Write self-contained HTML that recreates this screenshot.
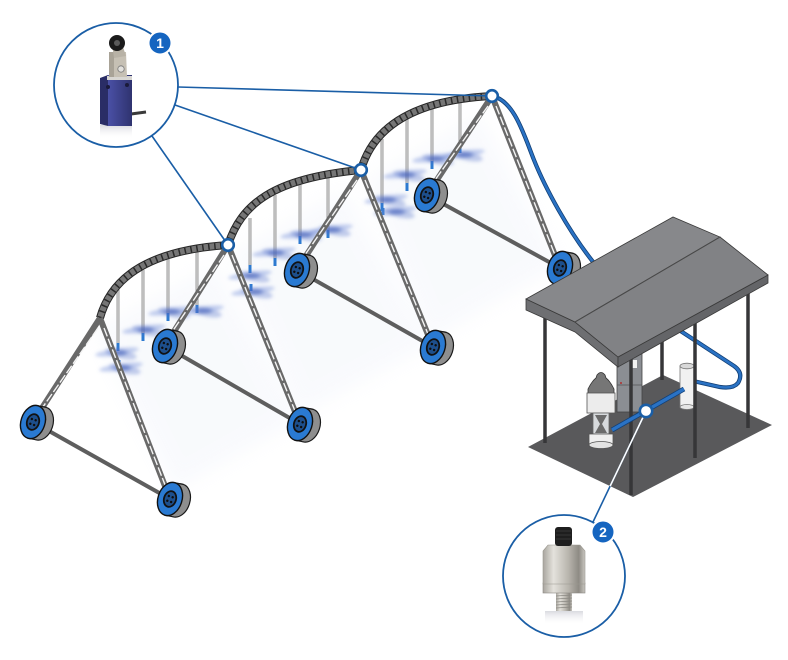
<!DOCTYPE html>
<html><head><meta charset="utf-8">
<style>html,body{margin:0;padding:0;background:#fff;}svg{display:block}</style>
</head><body>
<svg width="788" height="660" viewBox="0 0 788 660" xmlns="http://www.w3.org/2000/svg">
<defs>
<filter id="b2" x="-50%" y="-50%" width="200%" height="200%"><feGaussianBlur stdDeviation="1.8"/></filter>
<filter id="b8" x="-50%" y="-50%" width="200%" height="200%"><feGaussianBlur stdDeviation="9"/></filter>
<linearGradient id="bodyG" x1="0" x2="1" y1="0" y2="0"><stop offset="0" stop-color="#4a50a6"/><stop offset="1" stop-color="#2f336f"/></linearGradient>
<linearGradient id="metal" x1="0" x2="1" y1="0" y2="0"><stop offset="0" stop-color="#a9a69f"/><stop offset=".25" stop-color="#e4e2dc"/><stop offset=".6" stop-color="#b9b6ae"/><stop offset=".85" stop-color="#8e8b84"/><stop offset="1" stop-color="#c9c7c1"/></linearGradient>
<linearGradient id="refl" x1="0" x2="0" y1="0" y2="1"><stop offset="0" stop-color="#c9cad3" stop-opacity=".7"/><stop offset="1" stop-color="#fff" stop-opacity="0"/></linearGradient>
<clipPath id="slabClip"><polygon points="528,447 633,497 772,425 663,375"/></clipPath>
<g id="wheel">
 <ellipse cx="8" cy="-1" rx="12" ry="17" fill="#8e8e8e" stroke="#1a1a1a" stroke-width="1.2"/>
 <polygon points="0,-17 8,-18 8,16 0,17" fill="#8e8e8e"/>
 <line x1="0" y1="-17" x2="8" y2="-18" stroke="#1a1a1a" stroke-width="1.2"/>
 <line x1="0" y1="17" x2="8" y2="16" stroke="#1a1a1a" stroke-width="1.2"/>
 <ellipse cx="0" cy="0" rx="12" ry="17" fill="#2a7ad2" stroke="#111" stroke-width="1.4"/>
 <ellipse cx="0" cy="0" rx="6" ry="8" fill="#1d4f8c" stroke="#111" stroke-width="1.8"/>
 <circle cx="-2" cy="-2.5" r="1.2" fill="#0d0d0d"/>
 <circle cx="2" cy="-2.5" r="1.2" fill="#0d0d0d"/>
 <circle cx="-2" cy="2.5" r="1.2" fill="#0d0d0d"/>
 <circle cx="2" cy="2.5" r="1.2" fill="#0d0d0d"/>
</g>
<g id="spray">
 <ellipse rx="22" ry="3.5" fill="#6b88d8" opacity=".4" transform="rotate(-8)"/>
 <ellipse rx="16" ry="4.5" fill="#5573c8" opacity=".35" transform="translate(4,2) rotate(12)"/>
 <ellipse rx="8" ry="2.5" fill="#3452b0" opacity=".5" transform="translate(2,1)"/>
</g>
</defs>

<rect width="788" height="660" fill="#fff"/>

<!-- haze under spans -->
<g filter="url(#b8)" opacity=".18">
 <polygon points="95,330 215,265 300,420 175,490" fill="#dde4f4"/>
 <polygon points="230,255 345,190 430,345 300,415" fill="#dde4f4"/>
 <polygon points="365,180 480,115 560,265 430,340" fill="#dde4f4"/>
</g>

<!-- droppers -->
<g stroke-linecap="butt">
 <g stroke="#9a9a9a" stroke-width="3">
  <line x1="118" y1="288" x2="118" y2="350"/><line x1="143" y1="270" x2="143" y2="340"/>
  <line x1="168" y1="258" x2="168" y2="320"/><line x1="197" y1="251" x2="197" y2="312"/>
  <line x1="250" y1="218" x2="250" y2="272"/><line x1="275" y1="195" x2="275" y2="265"/>
  <line x1="300" y1="180" x2="300" y2="243"/><line x1="328" y1="173" x2="328" y2="237"/>
  <line x1="382" y1="139" x2="382" y2="210"/><line x1="407" y1="119" x2="407" y2="190"/>
  <line x1="432" y1="104" x2="432" y2="168"/><line x1="460" y1="99" x2="460" y2="152"/>
 </g>
 <g stroke="#e2e2e2" stroke-width="1">
  <line x1="118" y1="288" x2="118" y2="343"/><line x1="143" y1="270" x2="143" y2="333"/>
  <line x1="168" y1="258" x2="168" y2="313"/><line x1="197" y1="251" x2="197" y2="305"/>
  <line x1="250" y1="218" x2="250" y2="265"/><line x1="275" y1="195" x2="275" y2="258"/>
  <line x1="300" y1="180" x2="300" y2="236"/><line x1="328" y1="173" x2="328" y2="230"/>
  <line x1="382" y1="139" x2="382" y2="203"/><line x1="407" y1="119" x2="407" y2="183"/>
  <line x1="432" y1="104" x2="432" y2="161"/><line x1="460" y1="99" x2="460" y2="145"/>
 </g>
 <g stroke="#2d7ad0" stroke-width="3">
  <line x1="118" y1="343" x2="118" y2="351"/><line x1="143" y1="333" x2="143" y2="341"/>
  <line x1="168" y1="313" x2="168" y2="321"/><line x1="197" y1="305" x2="197" y2="313"/>
  <line x1="250" y1="265" x2="250" y2="273"/><line x1="275" y1="258" x2="275" y2="266"/>
  <line x1="300" y1="236" x2="300" y2="244"/><line x1="328" y1="230" x2="328" y2="238"/>
  <line x1="382" y1="203" x2="382" y2="211"/><line x1="407" y1="183" x2="407" y2="191"/>
  <line x1="432" y1="161" x2="432" y2="169"/><line x1="460" y1="145" x2="460" y2="153"/>
  <line x1="119" y1="360" x2="119" y2="367"/><line x1="251" y1="284" x2="251" y2="291"/>
  <line x1="383" y1="208" x2="383" y2="215"/>
 </g>
</g>

<!-- sprays -->
<g filter="url(#b2)">
 <use href="#spray" x="117" y="352"/><use href="#spray" x="121" y="367"/>
 <use href="#spray" x="144" y="329"/><use href="#spray" x="170" y="311"/><use href="#spray" x="202" y="310"/>
 <use href="#spray" x="250" y="275"/><use href="#spray" x="253" y="291"/>
 <use href="#spray" x="274" y="252"/><use href="#spray" x="302" y="234"/><use href="#spray" x="331" y="229"/>
 <use href="#spray" x="386" y="199"/><use href="#spray" x="395" y="211"/>
 <use href="#spray" x="405" y="174"/><use href="#spray" x="434" y="158"/><use href="#spray" x="463" y="154"/>
</g>

<!-- arches -->
<g fill="none">
 <g stroke="#262626" stroke-width="8">
  <path d="M100,318 C112,275 152,250 228,245"/>
  <path d="M228,245 C241,205 272,178 361,170"/>
  <path d="M361,170 C373,128 412,100 492,96"/>
 </g>
 <g stroke="#767676" stroke-width="6">
  <path d="M100,318 C112,275 152,250 228,245"/>
  <path d="M228,245 C241,205 272,178 361,170"/>
  <path d="M361,170 C373,128 412,100 492,96"/>
 </g>
 <g stroke="#2a2a2a" stroke-width="6" stroke-dasharray="1.5 4.5">
  <path d="M100,318 C112,275 152,250 228,245"/>
  <path d="M228,245 C241,205 272,178 361,170"/>
  <path d="M361,170 C373,128 412,100 492,96"/>
 </g>
</g>

<!-- bottom links -->
<g stroke="#5e5e5e" stroke-width="4">
 <line x1="33" y1="422" x2="170" y2="499"/>
 <line x1="165" y1="346" x2="300" y2="424"/>
 <line x1="297" y1="270" x2="433" y2="347"/>
 <line x1="427" y1="195" x2="560" y2="268"/>
</g>

<!-- legs -->
<g stroke="#696969" stroke-width="6">
 <line x1="100" y1="318" x2="33" y2="422"/><line x1="100" y1="318" x2="170" y2="499"/>
 <line x1="228" y1="245" x2="165" y2="346"/><line x1="228" y1="245" x2="300" y2="424"/>
 <line x1="361" y1="170" x2="297" y2="270"/><line x1="361" y1="170" x2="433" y2="347"/>
 <line x1="492" y1="96" x2="427" y2="195"/><line x1="492" y1="96" x2="560" y2="268"/>
</g>
<g stroke="#f4f4f4" stroke-width="1.4" stroke-dasharray="9 2.5">
 <line x1="98" y1="328" x2="38" y2="414"/><line x1="104" y1="328" x2="167" y2="490"/>
 <line x1="224" y1="255" x2="168" y2="338"/><line x1="232" y1="255" x2="297" y2="416"/>
 <line x1="357" y1="180" x2="300" y2="262"/><line x1="365" y1="180" x2="430" y2="339"/>
 <line x1="488" y1="106" x2="430" y2="187"/><line x1="496" y1="106" x2="557" y2="260"/>
</g>

<!-- wheels -->
<use href="#wheel" transform="translate(33,422) rotate(18)"/>
<use href="#wheel" transform="translate(170,499) rotate(18)"/>
<use href="#wheel" transform="translate(165,346) rotate(18)"/>
<use href="#wheel" transform="translate(300,424) rotate(18)"/>
<use href="#wheel" transform="translate(297,270) rotate(18)"/>
<use href="#wheel" transform="translate(433,347) rotate(18)"/>
<use href="#wheel" transform="translate(427,195) rotate(18)"/>
<use href="#wheel" transform="translate(560,268) rotate(18)"/>

<!-- hose from pivot end -->
<path d="M492,96 C514,100 524,135 534,160 S568,232 598,268" fill="none" stroke="#123f74" stroke-width="4.2"/>
<path d="M492,96 C514,100 524,135 534,160 S568,232 598,268" fill="none" stroke="#2a72c4" stroke-width="2.6"/>

<!-- pump house slab -->
<polygon points="528,447 633,497 772,425 663,375" fill="#59595b"/>

<!-- back posts -->
<g stroke="#363638" stroke-width="3.5">
 <line x1="662" y1="335" x2="662" y2="380"/>
</g>

<!-- hose under roof -->
<path d="M676,328 L734,366 Q744,373 738,383 Q733,389 720,387 L693,381" fill="none" stroke="#123f74" stroke-width="4.2"/>
<path d="M676,328 L734,366 Q744,373 738,383 Q733,389 720,387 L693,381" fill="none" stroke="#2a72c4" stroke-width="2.6"/>

<!-- cabinet -->
<rect x="617" y="352" width="25" height="60" fill="#8b8e93" stroke="#444" stroke-width=".8"/>
<line x1="617" y1="385" x2="642" y2="385" stroke="#555" stroke-width=".8"/>
<rect x="632" y="360" width="5" height="8" fill="#f2f2f2"/>
<circle cx="621" cy="383" r="1" fill="#b03030"/>

<!-- white cylinder -->
<rect x="680" y="366" width="14" height="41" fill="#f1f1f1" stroke="#777" stroke-width=".8"/>
<ellipse cx="687" cy="407" rx="7" ry="2.5" fill="#e6e6e6" stroke="#777" stroke-width=".8"/>
<ellipse cx="687" cy="366" rx="7" ry="2.8" fill="#d8d8d8" stroke="#777" stroke-width=".8"/>

<!-- filter -->
<path d="M588,394 L588,389 Q592,381 596,378 L597,375 Q601,370 605,375 L606,378 Q610,381 614,389 L614,394 Z" fill="#767676" stroke="#333" stroke-width=".8"/>
<rect x="587" y="393" width="28" height="20" fill="#ececec" stroke="#555" stroke-width=".8"/>
<rect x="593" y="413" width="16" height="21" fill="#d7dadd" stroke="#666" stroke-width=".8"/>
<polygon points="595,415 607,415 602,424 607,433 595,433 600,424" fill="#6b6b6b"/>
<rect x="589" y="434" width="24" height="11" fill="#efefef" stroke="#555" stroke-width=".8"/>
<ellipse cx="601" cy="445" rx="12" ry="3.5" fill="#e3e3e3" stroke="#555" stroke-width=".8"/>

<!-- front posts -->
<g stroke="#363638" stroke-width="3.5">
 <line x1="545" y1="300" x2="545" y2="443"/>
 <line x1="631" y1="350" x2="631" y2="495"/>
 <line x1="695" y1="318" x2="695" y2="458"/>
 <line x1="748" y1="276" x2="748" y2="428"/>
</g>

<!-- inner pipe -->
<line x1="612" y1="430" x2="684" y2="389" stroke="#123f74" stroke-width="5"/>
<line x1="612" y1="430" x2="684" y2="389" stroke="#2a72c4" stroke-width="3.4"/>

<!-- roof -->
<polygon points="526,299 575,322 618,357 618,367 575,332 526,310" fill="#6e6f72" stroke="#3a3a3a" stroke-width=".8"/>
<polygon points="618,357 768,275 768,283 618,367" fill="#646568" stroke="#3a3a3a" stroke-width=".8"/>
<polygon points="526,299 673,217 720,237 575,322" fill="#87888b" stroke="#3a3a3a" stroke-width=".8"/>
<polygon points="575,322 720,237 768,275 618,357" fill="#818285" stroke="#3a3a3a" stroke-width=".8"/>
<line x1="575" y1="322" x2="720" y2="237" stroke="#4a4a4a" stroke-width="1"/>

<!-- callout lines -->
<g stroke="#1a5ea6" stroke-width="1.6" fill="none">
 <line x1="178" y1="87" x2="492" y2="96"/>
 <line x1="175" y1="105" x2="361" y2="170"/>
 <line x1="152" y1="136" x2="228" y2="245"/>
 <line x1="646" y1="411" x2="593" y2="522"/>
</g>
<line x1="646" y1="411" x2="593" y2="522" stroke="#fff" stroke-width="1.6" clip-path="url(#slabClip)"/>

<!-- nodes -->
<g fill="#fff" stroke="#1a5ea6" stroke-width="2.6">
 <circle cx="228" cy="245" r="5.8"/>
 <circle cx="361" cy="170" r="5.8"/>
 <circle cx="492" cy="96" r="5.8"/>
 <circle cx="646" cy="411" r="6.2"/>
</g>

<!-- callout circle 1 : limit switch -->
<circle cx="116" cy="85" r="62" fill="#fff" stroke="#1a5ea6" stroke-width="1.8"/>
<rect x="100" y="125" width="32" height="14" fill="url(#refl)"/>
<path d="M131,114 L146,112" stroke="#3a3a3a" stroke-width="3"/>
<polygon points="100,78 108,75 108,126 100,124" fill="#2a2d66"/>
<rect x="108" y="75" width="24" height="51" fill="url(#bodyG)"/>
<rect x="107" y="76" width="25" height="4" fill="#d8d6d2"/>
<circle cx="108" cy="87" r="2" fill="#1a1a3a"/>
<circle cx="127" cy="85" r="2" fill="#1a1a3a"/>
<polygon points="109,52 126,52 127,77 109,77" fill="#c6c0b4"/>
<polygon points="109,52 114,52 114,77 109,77" fill="#a9a397"/>
<polygon points="112,44 122,44 126,56 114,58" fill="#b8b2a6"/>
<circle cx="121" cy="69" r="3.2" fill="#e2e0dc" stroke="#777" stroke-width=".8"/>
<circle cx="117" cy="43" r="8" fill="#1b1b1b"/>
<circle cx="117" cy="43" r="3" fill="#5a5a5a"/>
<circle cx="160" cy="43" r="11.5" fill="#1565c0" stroke="#fff" stroke-width="2"/>
<text x="160" y="48" font-family="Liberation Sans, sans-serif" font-size="14" font-weight="bold" fill="#fff" text-anchor="middle">1</text>

<!-- callout circle 2 : pressure sensor -->
<circle cx="564" cy="576" r="61" fill="#fff" stroke="#1a5ea6" stroke-width="1.8"/>
<rect x="545" y="611" width="38" height="14" fill="url(#refl)"/>
<rect x="556" y="592" width="16" height="19" fill="url(#metal)"/>
<g stroke="#8a8882" stroke-width=".8">
 <line x1="556" y1="596" x2="572" y2="595"/><line x1="556" y1="599" x2="572" y2="598"/>
 <line x1="556" y1="602" x2="572" y2="601"/><line x1="556" y1="605" x2="572" y2="604"/>
 <line x1="556" y1="608" x2="572" y2="607"/>
</g>
<rect x="543" y="583" width="42" height="10" fill="url(#metal)" stroke="#8a8882" stroke-width=".6"/>
<path d="M548,545 L580,545 L585,551 L585,584 L543,584 L543,551 Z" fill="url(#metal)" stroke="#9a978f" stroke-width=".6"/>
<rect x="555" y="527" width="17" height="19" rx="3" fill="#1e1e1e"/>
<g stroke="#3c3c3c" stroke-width=".8">
 <line x1="556" y1="531" x2="571" y2="531"/><line x1="556" y1="535" x2="571" y2="535"/>
 <line x1="556" y1="539" x2="571" y2="539"/>
</g>
<circle cx="603" cy="532" r="11.5" fill="#1565c0" stroke="#fff" stroke-width="2"/>
<text x="603" y="537" font-family="Liberation Sans, sans-serif" font-size="14" font-weight="bold" fill="#fff" text-anchor="middle">2</text>
</svg>
</body></html>
